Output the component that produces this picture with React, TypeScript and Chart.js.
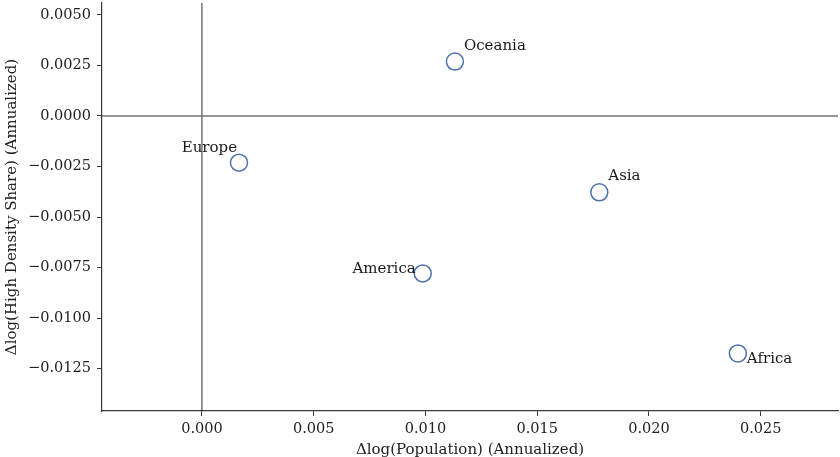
import { useEffect, useRef } from "react";
import { Chart, registerables } from "chart.js";

Chart.register(...registerables);

// Annualized growth by region
const regions = ["Oceania", "Asia", "Europe", "America", "Africa"];
const populationGrowth = [0.01132, 0.01778, 0.00166, 0.00988, 0.02398];
const densityShareGrowth = [0.00269, -0.00378, -0.00231, -0.00779, -0.01175];

const xTickValues = [0, 0.005, 0.01, 0.015, 0.02, 0.025];
const yTickValues = [0.005, 0.0025, 0, -0.0025, -0.005, -0.0075, -0.01, -0.0125];

const X_MIN = -0.00447;
const X_MAX = 0.02846;
const Y_MIN = -0.0146;
const Y_MAX = 0.00559;

// Where each region's name sits relative to its marker (pixels)
const labelPlacement: Record<string, { dx: number; dy: number; align: CanvasTextAlign }> = {
  Oceania: { dx: 9, dy: -12, align: "left" },
  Asia: { dx: 9, dy: -12, align: "left" },
  Europe: { dx: -2, dy: -11, align: "right" },
  America: { dx: -7, dy: 0, align: "right" },
  Africa: { dx: 9, dy: 9.5, align: "left" },
};

const FONT = "'DejaVu Serif', serif";
const TEXT = "#222222";
const SPINE = "#3a3a3a";

const fmt = (v: number, digits: number) => {
  const s = Math.abs(v).toFixed(digits);
  return v < -1e-12 ? "\u2212" + s : s;
};

const noEdgePadding = (scale: any) => {
  scale.paddingTop = 0;
  scale.paddingBottom = 0;
  scale.paddingLeft = 0;
  scale.paddingRight = 0;
};

const zeroLines = {
  id: "zeroLines",
  beforeDatasetsDraw(chart: any) {
    const { ctx, chartArea, scales } = chart;
    const x0 = scales.x.getPixelForValue(0);
    const y0 = scales.y.getPixelForValue(0);
    ctx.save();
    ctx.strokeStyle = "rgba(0,0,0,0.55)";
    ctx.lineWidth = 1.5;
    ctx.beginPath();
    ctx.moveTo(chartArea.left, y0);
    ctx.lineTo(chartArea.right, y0);
    ctx.moveTo(x0, chartArea.top);
    ctx.lineTo(x0, chartArea.bottom);
    ctx.stroke();
    ctx.restore();
  },
};

const regionLabels = {
  id: "regionLabels",
  afterDatasetsDraw(chart: any) {
    const { ctx } = chart;
    const meta = chart.getDatasetMeta(0);
    ctx.save();
    ctx.font = `15px ${FONT}`;
    ctx.fillStyle = "#1a1a1a";
    ctx.textBaseline = "alphabetic";
    meta.data.forEach((pt: any, i: number) => {
      const name = regions[i];
      const p = labelPlacement[name];
      ctx.textAlign = p.align;
      ctx.fillText(name, pt.x + p.dx, pt.y + p.dy);
    });
    ctx.restore();
  },
};

export default function App() {
  const canvasRef = useRef<HTMLCanvasElement | null>(null);

  useEffect(() => {
    if (!canvasRef.current) return;
    const chart = new Chart(canvasRef.current, {
      type: "scatter",
      data: {
        datasets: [
          {
            data: regions.map((_, i) => ({ x: populationGrowth[i], y: densityShareGrowth[i] })),
            pointRadius: 8.5,
            pointHoverRadius: 8.5,
            pointBorderWidth: 1.5,
            pointBackgroundColor: "rgba(0,0,0,0)",
            pointBorderColor: "#4C72B0",
            pointStyle: "circle",
          },
        ],
      },
      options: {
        responsive: false,
        animation: false,
        devicePixelRatio: 1,
        layout: { autoPadding: false, padding: { top: 3, right: 2, left: 0, bottom: 0 } },
        plugins: {
          legend: { display: false },
          tooltip: { enabled: false },
        },
        scales: {
          x: {
            type: "linear",
            min: X_MIN,
            max: X_MAX,
            afterBuildTicks: (scale: any) => {
              scale.ticks = xTickValues.map((value) => ({ value }));
            },
            afterFit: (scale: any) => {
              scale.height = 46;
              noEdgePadding(scale);
            },
            grid: {
              display: true,
              drawOnChartArea: false,
              drawTicks: true,
              tickLength: 5,
              tickWidth: 1,
              tickColor: SPINE,
            },
            border: { display: true, color: SPINE, width: 1.2 },
            ticks: {
              autoSkip: false,
              maxRotation: 0,
              padding: 5,
              color: TEXT,
              font: { family: FONT, size: 14.5 },
              callback: (v: any) => fmt(Number(v), 3),
            },
            title: {
              display: true,
              text: "\u0394log(Population) (Annualized)",
              color: TEXT,
              font: { family: FONT, size: 15 },
              padding: { top: 0, bottom: -2 },
            },
          },
          y: {
            type: "linear",
            min: Y_MIN,
            max: Y_MAX,
            afterBuildTicks: (scale: any) => {
              scale.ticks = yTickValues.map((value) => ({ value }));
            },
            afterFit: (scale: any) => {
              scale.width = 102;
              noEdgePadding(scale);
            },
            grid: {
              display: true,
              drawOnChartArea: false,
              drawTicks: true,
              tickLength: 5,
              tickWidth: 1,
              tickColor: SPINE,
            },
            border: { display: true, color: SPINE, width: 1.2 },
            ticks: {
              autoSkip: false,
              padding: 6,
              color: TEXT,
              font: { family: FONT, size: 14.5 },
              callback: (v: any) => fmt(Number(v), 4),
            },
            title: {
              display: true,
              text: "\u0394log(High Density Share) (Annualized)",
              color: TEXT,
              font: { family: FONT, size: 15 },
              padding: { top: 3, bottom: 0 },
            },
          },
        },
      },
      plugins: [zeroLines, regionLabels],
    });
    return () => chart.destroy();
  }, []);

  return (
    <div style={{ position: "fixed", left: 0, top: 0, width: 840, height: 457, background: "#fff" }}>
      <canvas ref={canvasRef} width={840} height={457} />
    </div>
  );
}
